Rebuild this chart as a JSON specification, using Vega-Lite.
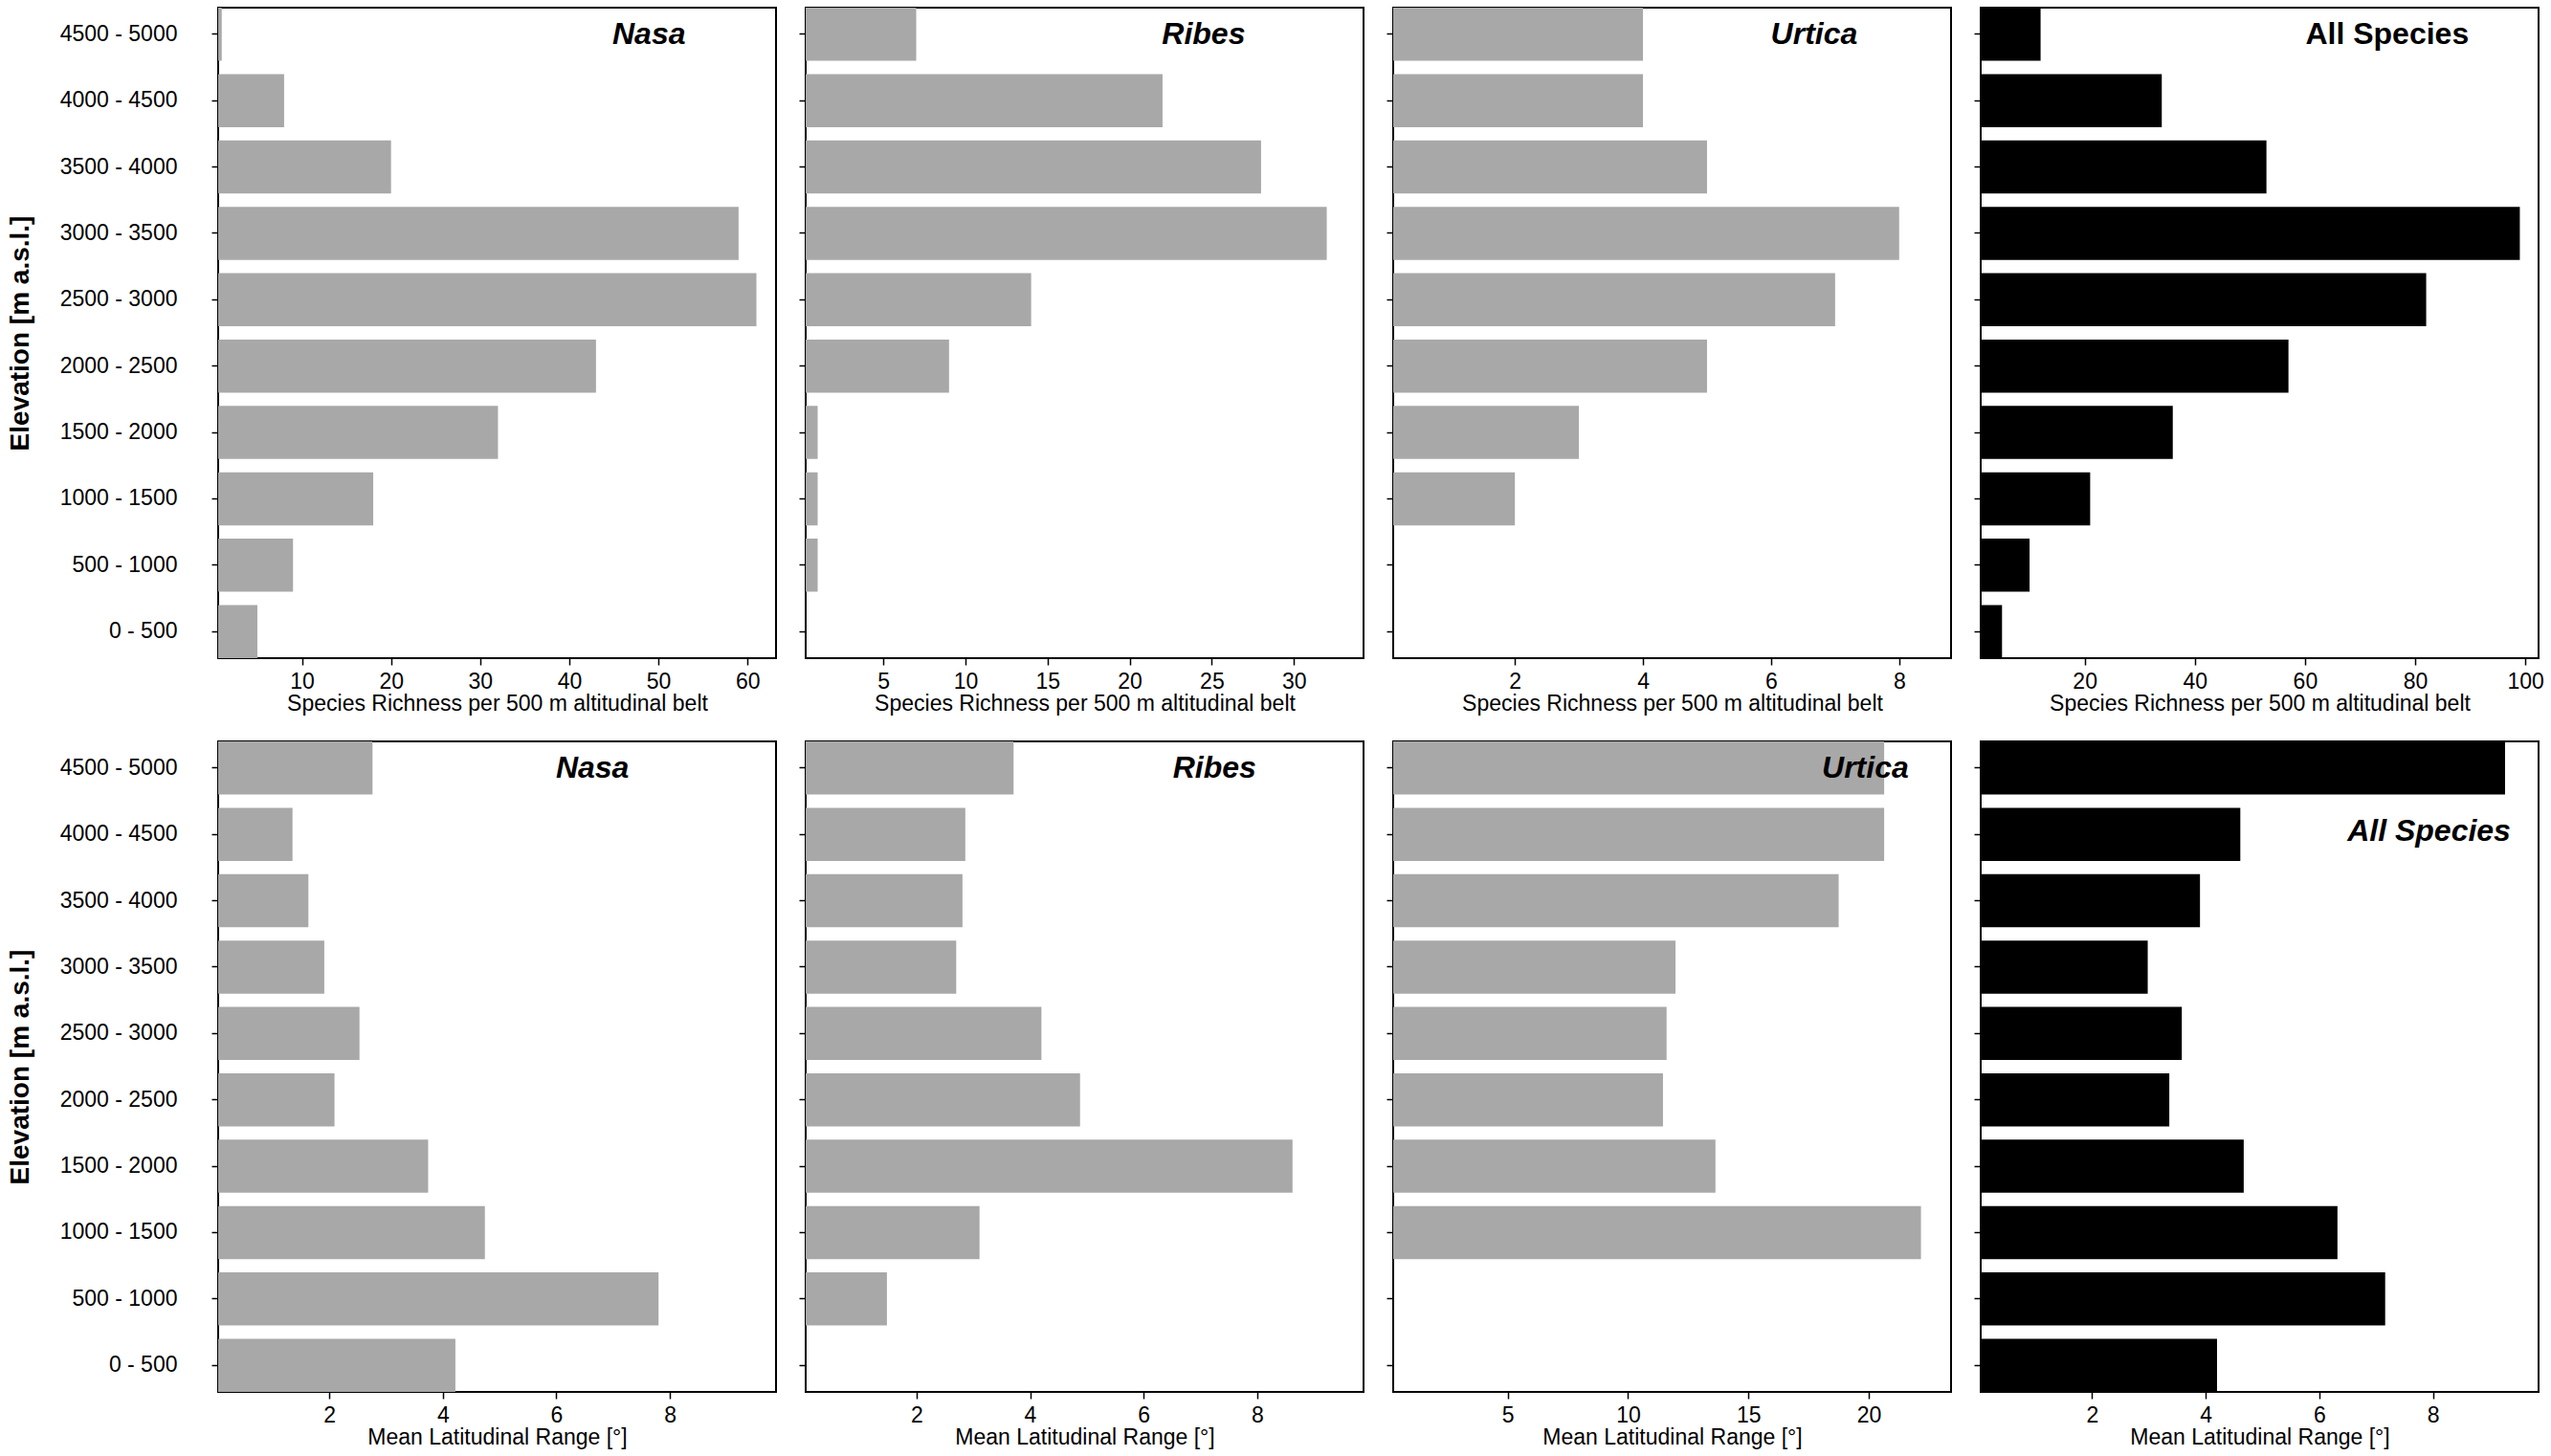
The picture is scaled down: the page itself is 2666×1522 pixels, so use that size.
{
  "$schema": "https://vega.github.io/schema/vega-lite/v6.json",
  "description": "Species richness and mean latitudinal range per 500 m altitudinal belt for Nasa, Ribes, Urtica and all species.",
  "padding": {"left": 6, "top": 7, "right": 5, "bottom": 5},
  "background": "white",
  "config": {
    "font": "Liberation Sans",
    "view": {"stroke": "black", "strokeWidth": 2},
    "axis": {
      "domain": false,
      "grid": false,
      "labelFontSize": 23,
      "labelColor": "black",
      "titleFontSize": 23,
      "titleFontWeight": "normal",
      "titleColor": "black",
      "tickColor": "black",
      "tickSize": 7,
      "tickWidth": 1.5
    },
    "axisX": {"labelPadding": 6, "titlePadding": 0, "labelFlush": false, "format": "d"},
    "axisY": {"labelPadding": 36, "titlePadding": 27}
  },
  "data": {
    "values": [
      {"belt": "4500 - 5000", "taxon": "Nasa", "richness": 1, "latrange": 2.76},
      {"belt": "4000 - 4500", "taxon": "Nasa", "richness": 8, "latrange": 1.35},
      {"belt": "3500 - 4000", "taxon": "Nasa", "richness": 20, "latrange": 1.63},
      {"belt": "3000 - 3500", "taxon": "Nasa", "richness": 59, "latrange": 1.91},
      {"belt": "2500 - 3000", "taxon": "Nasa", "richness": 61, "latrange": 2.53},
      {"belt": "2000 - 2500", "taxon": "Nasa", "richness": 43, "latrange": 2.09},
      {"belt": "1500 - 2000", "taxon": "Nasa", "richness": 32, "latrange": 3.74},
      {"belt": "1000 - 1500", "taxon": "Nasa", "richness": 18, "latrange": 4.74},
      {"belt": "500 - 1000", "taxon": "Nasa", "richness": 9, "latrange": 7.8},
      {"belt": "0 - 500", "taxon": "Nasa", "richness": 5, "latrange": 4.22},
      {"belt": "4500 - 5000", "taxon": "Ribes", "richness": 7, "latrange": 3.71},
      {"belt": "4000 - 4500", "taxon": "Ribes", "richness": 22, "latrange": 2.86},
      {"belt": "3500 - 4000", "taxon": "Ribes", "richness": 28, "latrange": 2.81},
      {"belt": "3000 - 3500", "taxon": "Ribes", "richness": 32, "latrange": 2.7},
      {"belt": "2500 - 3000", "taxon": "Ribes", "richness": 14, "latrange": 4.2},
      {"belt": "2000 - 2500", "taxon": "Ribes", "richness": 9, "latrange": 4.88},
      {"belt": "1500 - 2000", "taxon": "Ribes", "richness": 1, "latrange": 8.62},
      {"belt": "1000 - 1500", "taxon": "Ribes", "richness": 1, "latrange": 3.11},
      {"belt": "500 - 1000", "taxon": "Ribes", "richness": 1, "latrange": 1.48},
      {"belt": "0 - 500", "taxon": "Ribes", "richness": null, "latrange": null},
      {"belt": "4500 - 5000", "taxon": "Urtica", "richness": 4, "latrange": 20.64},
      {"belt": "4000 - 4500", "taxon": "Urtica", "richness": 4, "latrange": 20.64},
      {"belt": "3500 - 4000", "taxon": "Urtica", "richness": 5, "latrange": 18.75},
      {"belt": "3000 - 3500", "taxon": "Urtica", "richness": 8, "latrange": 11.97},
      {"belt": "2500 - 3000", "taxon": "Urtica", "richness": 7, "latrange": 11.6},
      {"belt": "2000 - 2500", "taxon": "Urtica", "richness": 5, "latrange": 11.45},
      {"belt": "1500 - 2000", "taxon": "Urtica", "richness": 3, "latrange": 13.63},
      {"belt": "1000 - 1500", "taxon": "Urtica", "richness": 2, "latrange": 22.17},
      {"belt": "500 - 1000", "taxon": "Urtica", "richness": null, "latrange": null},
      {"belt": "0 - 500", "taxon": "Urtica", "richness": null, "latrange": null},
      {"belt": "4500 - 5000", "taxon": "All", "richness": 12, "latrange": 9.27},
      {"belt": "4000 - 4500", "taxon": "All", "richness": 34, "latrange": 4.61},
      {"belt": "3500 - 4000", "taxon": "All", "richness": 53, "latrange": 3.9},
      {"belt": "3000 - 3500", "taxon": "All", "richness": 99, "latrange": 2.98},
      {"belt": "2500 - 3000", "taxon": "All", "richness": 82, "latrange": 3.58},
      {"belt": "2000 - 2500", "taxon": "All", "richness": 57, "latrange": 3.36},
      {"belt": "1500 - 2000", "taxon": "All", "richness": 36, "latrange": 4.67},
      {"belt": "1000 - 1500", "taxon": "All", "richness": 21, "latrange": 6.32},
      {"belt": "500 - 1000", "taxon": "All", "richness": 10, "latrange": 7.16},
      {"belt": "0 - 500", "taxon": "All", "richness": 5, "latrange": 4.2}
    ]
  },
  "columns": 4,
  "spacing": {"row": 87, "column": 31},
  "bounds": "flush",
  "concat": [
    {
      "width": 583, "height": 680,
      "layer": [
        {
          "transform": [{"filter": "datum.taxon === 'Nasa'"}],
          "mark": {"type": "bar", "color": "#a8a8a8", "clip": true},
          "encoding": {
            "y": {"field": "belt", "type": "nominal",
              "scale": {"domain": ["4500 - 5000", "4000 - 4500", "3500 - 4000", "3000 - 3500", "2500 - 3000", "2000 - 2500", "1500 - 2000", "1000 - 1500", "500 - 1000", "0 - 500"], "paddingInner": 0.2, "paddingOuter": -0.04},
              "axis": {"title": "Elevation [m a.s.l.]", "titleFontWeight": "bold", "titleFontSize": 28}},
            "x": {"field": "richness", "type": "quantitative",
              "scale": {"domain": [0.6, 63.2], "nice": false, "zero": false},
              "axis": {"values": [10, 20, 30, 40, 50, 60], "title": "Species Richness per 500 m altitudinal belt"}},
            "x2": {"datum": 0}
          }
        },
        {
          "data": {"values": [{}]},
          "mark": {"type": "text", "text": "Nasa", "fontSize": 32, "fontWeight": "bold", "fontStyle": "italic", "align": "right", "baseline": "middle", "dy": 0},
          "encoding": {
            "x": {"datum": 53.05, "type": "quantitative"},
            "y": {"datum": "4500 - 5000", "type": "nominal"}
          }
        }
      ]
    },
    {
      "width": 583, "height": 680,
      "layer": [
        {
          "transform": [{"filter": "datum.taxon === 'Ribes'"}],
          "mark": {"type": "bar", "color": "#a8a8a8", "clip": true},
          "encoding": {
            "y": {"field": "belt", "type": "nominal",
              "scale": {"domain": ["4500 - 5000", "4000 - 4500", "3500 - 4000", "3000 - 3500", "2500 - 3000", "2000 - 2500", "1500 - 2000", "1000 - 1500", "500 - 1000", "0 - 500"], "paddingInner": 0.2, "paddingOuter": -0.04},
              "axis": {"title": null, "labels": false}},
            "x": {"field": "richness", "type": "quantitative",
              "scale": {"domain": [0.27, 34.24], "nice": false, "zero": false},
              "axis": {"values": [5, 10, 15, 20, 25, 30], "title": "Species Richness per 500 m altitudinal belt"}},
            "x2": {"datum": 0}
          }
        },
        {
          "data": {"values": [{}]},
          "mark": {"type": "text", "text": "Ribes", "fontSize": 32, "fontWeight": "bold", "fontStyle": "italic", "align": "right", "baseline": "middle", "dy": 0},
          "encoding": {
            "x": {"datum": 27.04, "type": "quantitative"},
            "y": {"datum": "4500 - 5000", "type": "nominal"}
          }
        }
      ]
    },
    {
      "width": 583, "height": 680,
      "layer": [
        {
          "transform": [{"filter": "datum.taxon === 'Urtica'"}],
          "mark": {"type": "bar", "color": "#a8a8a8", "clip": true},
          "encoding": {
            "y": {"field": "belt", "type": "nominal",
              "scale": {"domain": ["4500 - 5000", "4000 - 4500", "3500 - 4000", "3000 - 3500", "2500 - 3000", "2000 - 2500", "1500 - 2000", "1000 - 1500", "500 - 1000", "0 - 500"], "paddingInner": 0.2, "paddingOuter": -0.04},
              "axis": {"title": null, "labels": false}},
            "x": {"field": "richness", "type": "quantitative",
              "scale": {"domain": [0.1, 8.81], "nice": false, "zero": false},
              "axis": {"values": [2, 4, 6, 8], "title": "Species Richness per 500 m altitudinal belt"}},
            "x2": {"datum": 0}
          }
        },
        {
          "data": {"values": [{}]},
          "mark": {"type": "text", "text": "Urtica", "fontSize": 32, "fontWeight": "bold", "fontStyle": "italic", "align": "right", "baseline": "middle", "dy": 0},
          "encoding": {
            "x": {"datum": 7.35, "type": "quantitative"},
            "y": {"datum": "4500 - 5000", "type": "nominal"}
          }
        }
      ]
    },
    {
      "width": 583, "height": 680,
      "layer": [
        {
          "transform": [{"filter": "datum.taxon === 'All'"}],
          "mark": {"type": "bar", "color": "black", "clip": true},
          "encoding": {
            "y": {"field": "belt", "type": "nominal",
              "scale": {"domain": ["4500 - 5000", "4000 - 4500", "3500 - 4000", "3000 - 3500", "2500 - 3000", "2000 - 2500", "1500 - 2000", "1000 - 1500", "500 - 1000", "0 - 500"], "paddingInner": 0.2, "paddingOuter": -0.04},
              "axis": {"title": null, "labels": false}},
            "x": {"field": "richness", "type": "quantitative",
              "scale": {"domain": [1.13, 102.4], "nice": false, "zero": false},
              "axis": {"values": [20, 40, 60, 80, 100], "title": "Species Richness per 500 m altitudinal belt"}},
            "x2": {"datum": 0}
          }
        },
        {
          "data": {"values": [{}]},
          "mark": {"type": "text", "text": "All Species", "fontSize": 32, "fontWeight": "bold", "align": "right", "baseline": "middle", "dy": 0},
          "encoding": {
            "x": {"datum": 89.75, "type": "quantitative"},
            "y": {"datum": "4500 - 5000", "type": "nominal"}
          }
        }
      ]
    },
    {
      "width": 583, "height": 680,
      "layer": [
        {
          "transform": [{"filter": "datum.taxon === 'Nasa'"}],
          "mark": {"type": "bar", "color": "#a8a8a8", "clip": true},
          "encoding": {
            "y": {"field": "belt", "type": "nominal",
              "scale": {"domain": ["4500 - 5000", "4000 - 4500", "3500 - 4000", "3000 - 3500", "2500 - 3000", "2000 - 2500", "1500 - 2000", "1000 - 1500", "500 - 1000", "0 - 500"], "paddingInner": 0.2, "paddingOuter": -0.04},
              "axis": {"title": "Elevation [m a.s.l.]", "titleFontWeight": "bold", "titleFontSize": 28}},
            "x": {"field": "latrange", "type": "quantitative",
              "scale": {"domain": [0.04, 9.87], "nice": false, "zero": false},
              "axis": {"values": [2, 4, 6, 8], "title": "Mean Latitudinal Range [°]"}},
            "x2": {"datum": 0}
          }
        },
        {
          "data": {"values": [{}]},
          "mark": {"type": "text", "text": "Nasa", "fontSize": 32, "fontWeight": "bold", "fontStyle": "italic", "align": "right", "baseline": "middle", "dy": 0},
          "encoding": {
            "x": {"datum": 7.28, "type": "quantitative"},
            "y": {"datum": "4500 - 5000", "type": "nominal"}
          }
        }
      ]
    },
    {
      "width": 583, "height": 680,
      "layer": [
        {
          "transform": [{"filter": "datum.taxon === 'Ribes'"}],
          "mark": {"type": "bar", "color": "#a8a8a8", "clip": true},
          "encoding": {
            "y": {"field": "belt", "type": "nominal",
              "scale": {"domain": ["4500 - 5000", "4000 - 4500", "3500 - 4000", "3000 - 3500", "2500 - 3000", "2000 - 2500", "1500 - 2000", "1000 - 1500", "500 - 1000", "0 - 500"], "paddingInner": 0.2, "paddingOuter": -0.04},
              "axis": {"title": null, "labels": false}},
            "x": {"field": "latrange", "type": "quantitative",
              "scale": {"domain": [0.05, 9.87], "nice": false, "zero": false},
              "axis": {"values": [2, 4, 6, 8], "title": "Mean Latitudinal Range [°]"}},
            "x2": {"datum": 0}
          }
        },
        {
          "data": {"values": [{}]},
          "mark": {"type": "text", "text": "Ribes", "fontSize": 32, "fontWeight": "bold", "fontStyle": "italic", "align": "right", "baseline": "middle", "dy": 0},
          "encoding": {
            "x": {"datum": 7.98, "type": "quantitative"},
            "y": {"datum": "4500 - 5000", "type": "nominal"}
          }
        }
      ]
    },
    {
      "width": 583, "height": 680,
      "layer": [
        {
          "transform": [{"filter": "datum.taxon === 'Urtica'"}],
          "mark": {"type": "bar", "color": "#a8a8a8", "clip": true},
          "encoding": {
            "y": {"field": "belt", "type": "nominal",
              "scale": {"domain": ["4500 - 5000", "4000 - 4500", "3500 - 4000", "3000 - 3500", "2500 - 3000", "2000 - 2500", "1500 - 2000", "1000 - 1500", "500 - 1000", "0 - 500"], "paddingInner": 0.2, "paddingOuter": -0.04},
              "axis": {"title": null, "labels": false}},
            "x": {"field": "latrange", "type": "quantitative",
              "scale": {"domain": [0.24, 23.42], "nice": false, "zero": false},
              "axis": {"values": [5, 10, 15, 20], "title": "Mean Latitudinal Range [°]"}},
            "x2": {"datum": 0}
          }
        },
        {
          "data": {"values": [{}]},
          "mark": {"type": "text", "text": "Urtica", "fontSize": 32, "fontWeight": "bold", "fontStyle": "italic", "align": "right", "baseline": "middle", "dy": 0},
          "encoding": {
            "x": {"datum": 21.66, "type": "quantitative"},
            "y": {"datum": "4500 - 5000", "type": "nominal"}
          }
        }
      ]
    },
    {
      "width": 583, "height": 680,
      "layer": [
        {
          "transform": [{"filter": "datum.taxon === 'All'"}],
          "mark": {"type": "bar", "color": "black", "clip": true},
          "encoding": {
            "y": {"field": "belt", "type": "nominal",
              "scale": {"domain": ["4500 - 5000", "4000 - 4500", "3500 - 4000", "3000 - 3500", "2500 - 3000", "2000 - 2500", "1500 - 2000", "1000 - 1500", "500 - 1000", "0 - 500"], "paddingInner": 0.2, "paddingOuter": -0.04},
              "axis": {"title": null, "labels": false}},
            "x": {"field": "latrange", "type": "quantitative",
              "scale": {"domain": [0.04, 9.86], "nice": false, "zero": false},
              "axis": {"values": [2, 4, 6, 8], "title": "Mean Latitudinal Range [°]"}},
            "x2": {"datum": 0}
          }
        },
        {
          "data": {"values": [{}]},
          "mark": {"type": "text", "text": "All Species", "fontSize": 32, "fontWeight": "bold", "fontStyle": "italic", "align": "right", "baseline": "middle", "dy": -3},
          "encoding": {
            "x": {"datum": 9.37, "type": "quantitative"},
            "y": {"datum": "4000 - 4500", "type": "nominal"}
          }
        }
      ]
    }
  ]
}
